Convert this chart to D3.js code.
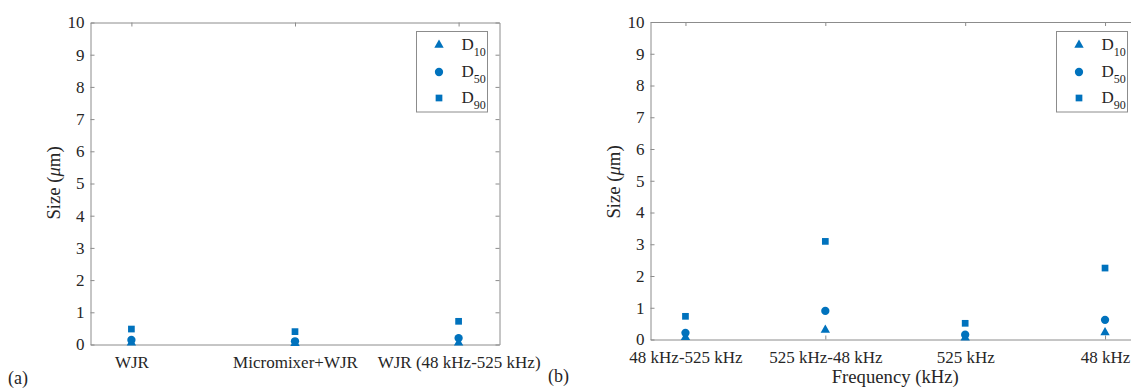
<!DOCTYPE html>
<html lang="en">

<head>
    <meta charset="UTF-8">
    <title>Size distribution</title>
    <script src="https://d3js.org/d3.v7.min.js"></script>
    <style>
        body { margin: 0; background: #fff; }
        svg text { font-family: "Liberation Serif", "Times New Roman", "DejaVu Serif", serif; fill: #262626; }
    </style>
</head>

<body>
    <script>
        // 数据
        const catsA = ["WJR", "Micromixer+WJR", "WJR (48 kHz-525 kHz)"];
        const d10A = [0.05, 0.04, 0.05];
        const d50A = [0.14, 0.10, 0.20];
        const d90A = [0.48, 0.40, 0.72];

        const catsB = ["48 kHz-525 kHz", "525 kHz-48 kHz", "525 kHz", "48 kHz"];
        const d10B = [0.07, 0.30, 0.05, 0.22];
        const d50B = [0.21, 0.90, 0.15, 0.62];
        const d90B = [0.73, 3.09, 0.51, 2.25];

        const yTicks = [0, 1, 2, 3, 4, 5, 6, 7, 8, 9, 10];
        const seriesNames = ["10", "50", "90"];

        const w = 1131, h = 388;
        const blue = "#0072BD";
        const lineColor = "#8c8c8c";
        const fs = 17;
        const labelFs = 18.7; // 轴标题比刻度字大一点
        const serif = '"Liberation Serif", "Times New Roman", "DejaVu Serif", serif';

        const svg = d3.select("body")
            .append("svg")
            .attr("width", w)
            .attr("height", h)
            .style("font-family", serif);

        const symbols = [d3.symbolTriangle, d3.symbolCircle, d3.symbolSquare];
        const symSizes = [38, 54, 45];

        function panel(opt) {
            const g = svg.append("g");
            const x = d3.scaleLinear()
                .domain([0.75, opt.cats.length + 0.25])
                .range([opt.left, opt.right]);
            const y = d3.scaleLinear()
                .domain([0, 10])
                .range([opt.bottom, opt.top]);
            const idx = d3.range(1, opt.cats.length + 1);

            // 坐标轴
            const xAxis = d3.axisBottom(x).tickValues(idx)
                .tickFormat(i => opt.cats[i - 1])
                .tickSizeInner(-4).tickSizeOuter(0).tickPadding(11);
            const xTop = d3.axisTop(x).tickValues(idx).tickFormat("")
                .tickSizeInner(-4).tickSizeOuter(0);
            const yAxis = d3.axisLeft(y).tickValues(yTicks)
                .tickSizeInner(-4).tickSizeOuter(0).tickPadding(6);
            const yRight = d3.axisRight(y).tickValues(yTicks).tickFormat("")
                .tickSizeInner(-4).tickSizeOuter(0);

            const gx = g.append("g").attr("transform", "translate(0," + opt.bottom + ")").call(xAxis);
            const gt = g.append("g").attr("transform", "translate(0," + opt.top + ")").call(xTop);
            const gy = g.append("g").attr("transform", "translate(" + opt.left + ",0)").call(yAxis);
            const gr = g.append("g").attr("transform", "translate(" + opt.right + ",0)").call(yRight);

            [gx, gt, gy, gr].forEach(a => {
                a.attr("font-family", null).attr("font-size", null);
                a.select(".domain").attr("stroke", lineColor);
                a.selectAll(".tick line").attr("stroke", lineColor);
                a.selectAll("text")
                    .style("font-family", serif)
                    .style("font-size", fs + "px")
                    .attr("fill", "#262626");
            });

            // 数据点
            const series = [opt.d10, opt.d50, opt.d90];
            series.forEach((vals, si) => {
                g.selectAll(".s" + si)
                    .data(vals)
                    .enter()
                    .append("path")
                    .attr("d", d3.symbol().type(symbols[si]).size(symSizes[si]))
                    .attr("transform", (d, i) => "translate(" + x(i + 1) + "," + y(d) + ")")
                    .attr("fill", blue);
            });

            // y轴标题
            const yl = g.append("text")
                .attr("transform", "translate(" + opt.ylabX + "," + opt.ylabY + ") rotate(-90)")
                .attr("text-anchor", "middle")
                .style("font-size", labelFs + "px");
            yl.append("tspan").text("Size (");
            yl.append("tspan").style("font-style", "italic").text("\u03bc");
            yl.append("tspan").text("m)");

            // 图例
            const lg = g.append("g").attr("transform", "translate(" + opt.legX + "," + opt.legY + ")");
            lg.append("rect")
                .attr("width", 71).attr("height", 80.5)
                .attr("fill", "#fff").attr("stroke", lineColor);
            const rows = [13.5, 40.5, 66.5];
            seriesNames.forEach((n, i) => {
                lg.append("path")
                    .attr("d", d3.symbol().type(symbols[i]).size(symSizes[i]))
                    .attr("transform", "translate(22.5," + rows[i] + ")")
                    .attr("fill", blue);
                const t = lg.append("text")
                    .attr("x", 45).attr("y", rows[i] + 4.5)
                    .style("font-size", fs + "px");
                t.append("tspan").text("D");
                t.append("tspan").attr("dy", 6).style("font-size", "12px").text(n);
            });

            // 面板标记
            g.append("text")
                .attr("x", opt.tagX).attr("y", opt.tagY)
                .style("font-size", "18px")
                .text(opt.tag);

            return { x, y, g };
        }

        panel({
            cats: catsA, d10: d10A, d50: d50A, d90: d90A,
            left: 90.5, right: 499.5, top: 22.5, bottom: 344.5,
            ylabX: 60, ylabY: 183, legX: 416.5, legY: 31.5,
            tag: "(a)", tagX: 8, tagY: 384
        });

        const pb = panel({
            cats: catsB, d10: d10B, d50: d50B, d90: d90B,
            left: 650.5, right: 1140, top: 22, bottom: 339.5,
            ylabX: 619.5, ylabY: 182, legX: 1056.5, legY: 31.5,
            tag: "(b)", tagX: 548, tagY: 382
        });

        // x轴标题
        pb.g.append("text")
            .attr("x", (650.5 + 1140) / 2).attr("y", 383)
            .attr("text-anchor", "middle")
            .style("font-size", labelFs + "px")
            .text("Frequency (kHz)");
    </script>
</body>

</html>
